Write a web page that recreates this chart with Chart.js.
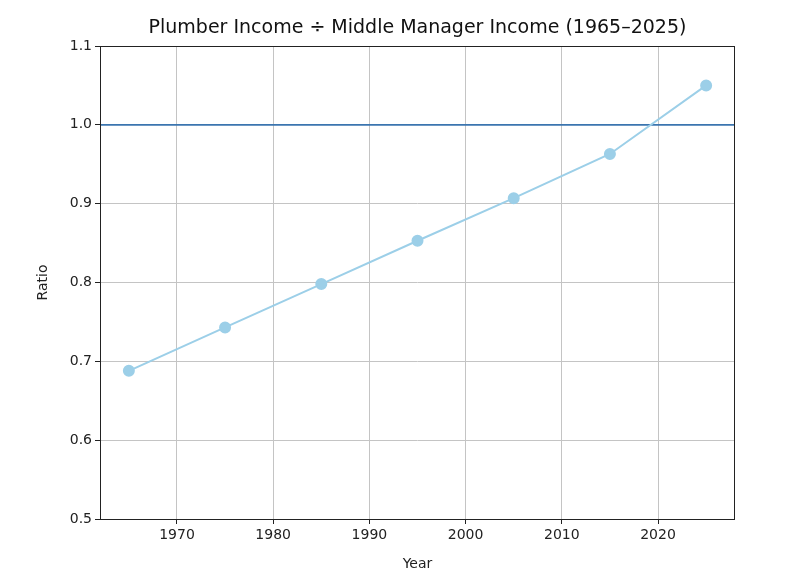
<!DOCTYPE html>
<html><head><meta charset="utf-8">
<script src="https://cdn.jsdelivr.net/npm/chart.js@4"></script>
<style>html,body{margin:0;padding:0;background:#fff}#w{width:800px;height:585px}</style>
</head><body><div id="w"><canvas id="c"></canvas></div>
<script>
const years = [1965, 1975, 1985, 1995, 2005, 2015, 2025];
const ratios = [0.688, 0.743, 0.798, 0.853, 0.907, 0.963, 1.050];
const referenceLevel = 1.0;
const titleText = 'Plumber Income ÷ Middle Manager Income (1965–2025)';
const xLabel = 'Year';
const yLabel = 'Ratio';

const frame = {
  id: 'frame',
  beforeDatasetsDraw(chart) {
    const {ctx, chartArea: a, scales: {y}} = chart;
    const py = y.getPixelForValue(referenceLevel);
    ctx.save();
    ctx.strokeStyle = '#3b75af'; ctx.lineWidth = 1.6;
    ctx.beginPath(); ctx.moveTo(a.left, py); ctx.lineTo(a.right, py); ctx.stroke();
    ctx.restore();
  },
  afterDraw(chart) {
    const {ctx, chartArea: a} = chart;
    ctx.save(); ctx.strokeStyle = '#222'; ctx.lineWidth = 1;
    ctx.strokeRect(a.left + 0.5, a.top + 0.5, a.right - a.left - 1, a.bottom - a.top);
    ctx.fillStyle = '#111'; ctx.textAlign = 'center'; ctx.textBaseline = 'middle';
    ctx.font = '19px "DejaVu Sans"';
    ctx.fillText(titleText, (a.left + a.right) / 2, 28);
    ctx.fillStyle = '#222'; ctx.font = '14px "DejaVu Sans"';
    ctx.fillText(xLabel, (a.left + a.right) / 2, 564);
    ctx.translate(43, (a.top + a.bottom) / 2); ctx.rotate(-Math.PI / 2);
    ctx.fillText(yLabel, 0, 0);
    ctx.restore();
  }
};

Chart.defaults.font.family = 'DejaVu Sans';
new Chart(document.getElementById('c'), {
  type: 'line',
  data: { datasets: [{
    data: years.map((x, i) => ({x, y: ratios[i]})),
    borderColor: '#9ccfe8', backgroundColor: '#9ccfe8',
    borderWidth: 2, pointRadius: 5, pointHoverRadius: 5, tension: 0
  }]},
  options: {
    responsive: true, maintainAspectRatio: false, animation: false,
    layout: { padding: { top: 46, right: 65, bottom: 0, left: 0 } },
    plugins: { legend: { display: false }, tooltip: { enabled: false }, title: { display: false } },
    scales: {
      x: { type: 'linear', min: 1962, max: 2028,
        afterBuildTicks: s => { s.ticks = [1970,1980,1990,2000,2010,2020].map(v => ({value: v})); },
        afterFit: s => { s.height = 66; },
        ticks: { color: '#222', font: { size: 14 }, callback: v => String(v), maxRotation: 0 },
        grid: { color: '#c4c4c4', tickColor: '#222', tickLength: 5 },
        border: { display: false } },
      y: { min: 0.5, max: 1.1,
        afterBuildTicks: s => { s.ticks = [0.5,0.6,0.7,0.8,0.9,1.0,1.1].map(v => ({value: v})); },
        afterFit: s => { s.width = 100; },
        ticks: { color: '#222', font: { size: 14 }, callback: v => v.toFixed(1) },
        grid: { color: '#c4c4c4', tickColor: '#222', tickLength: 5 },
        border: { display: false } }
    }
  },
  plugins: [frame]
});
</script></body></html>
